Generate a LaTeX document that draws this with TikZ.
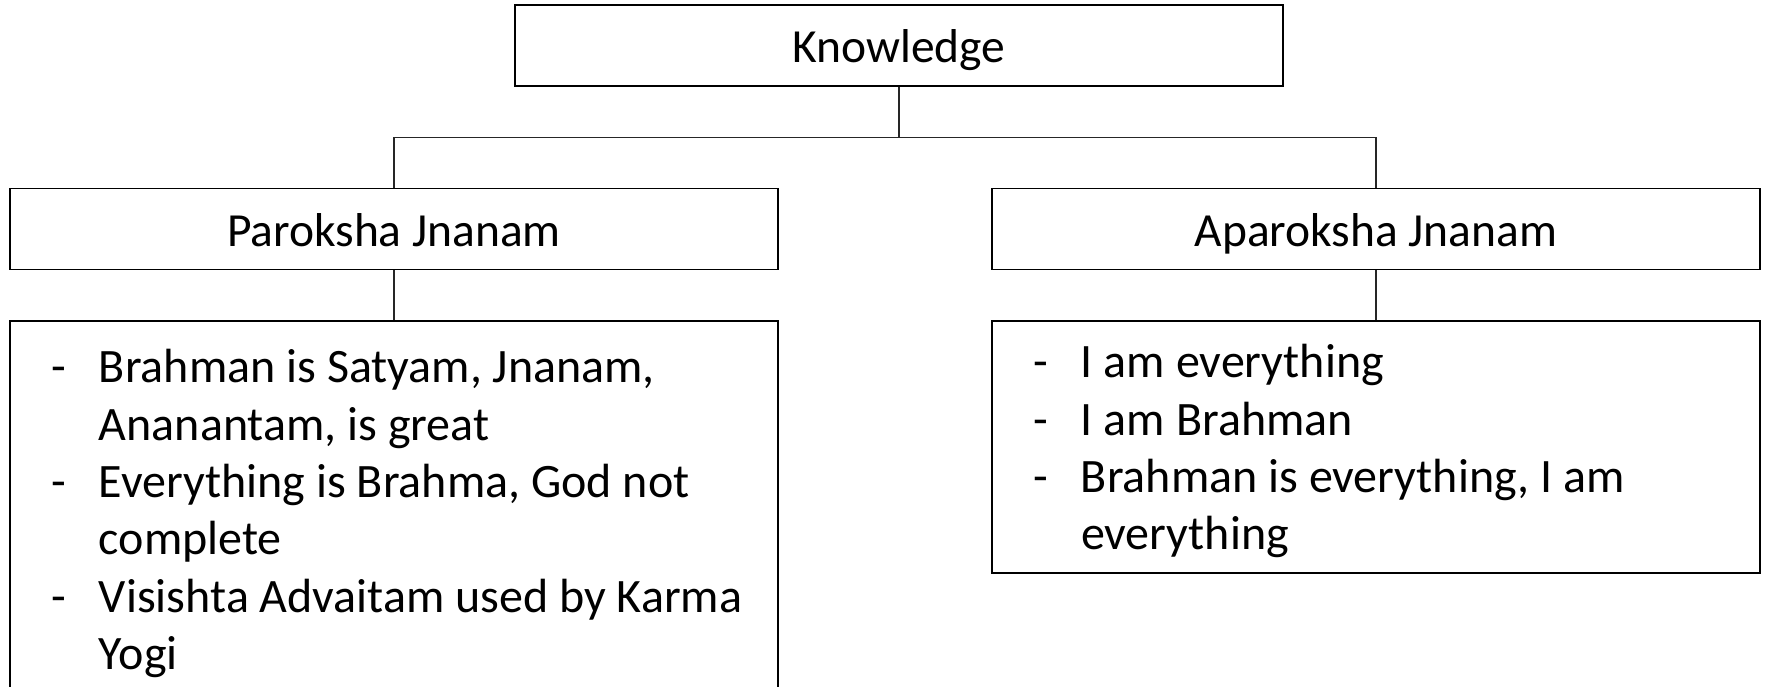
\documentclass[tikz,border=0pt]{standalone}
\usepackage{fontspec}
\setmainfont{Carlito}
\usetikzlibrary{positioning}

\tikzset{
  hdr/.style={draw=black,line width=1.8pt,minimum width=768pt,minimum height=81pt,
              inner sep=0pt,text height=40pt,text depth=6pt,
              font=\fontsize{47.5}{57}\selectfont},
  listbox/.style={draw=black,line width=1.8pt,minimum width=768pt,inner sep=0pt,
              anchor=north,font=\fontsize{48}{57.4}\selectfont},
  link/.style={line width=1.2pt,black!85}
}
\newcommand{\dashlist}[1]{%
  \begin{tabular}{@{\hspace{41pt}}p{48pt}@{}p{679pt}@{}}\noalign{\vskip 10pt}#1\end{tabular}}

\begin{document}
\begin{tikzpicture}[x=1pt,y=-1pt]
  \clip (0,0) rectangle (1769,687);
  % headers
  \node[hdr] (kn) at (899,45.5) {Knowledge};
  \node[hdr] (pj) at (394,229) {Paroksha Jnanam};
  \node[hdr] (aj) at (1376,229) {Aparoksha Jnanam};
  % lists
  \node[listbox,minimum height=377pt,below=50pt of pj.south] (pl) {\dashlist{%
    -&Brahman is Satyam, Jnanam,\\
     &Ananantam, is great\\
    -&Everything is Brahma, God not\\
     &complete\\
    -&Visishta Advaitam used by Karma\\
     &Yogi\\}};
  \node[listbox,minimum height=252pt,below=50pt of aj.south] (al) {\dashlist{%
    -&I am everything\\
    -&I am Brahman\\
    -&Brahman is everything, I am\\
     &everything\\}};
  % connectors
  \draw[link] (kn.south) -- ++(0,51) -| (pj.north);
  \draw[link] (kn.south) -- ++(0,51) -| (aj.north);
  \draw[link] (pj.south) -- (pl.north);
  \draw[link] (aj.south) -- (al.north);
\end{tikzpicture}
\end{document}
